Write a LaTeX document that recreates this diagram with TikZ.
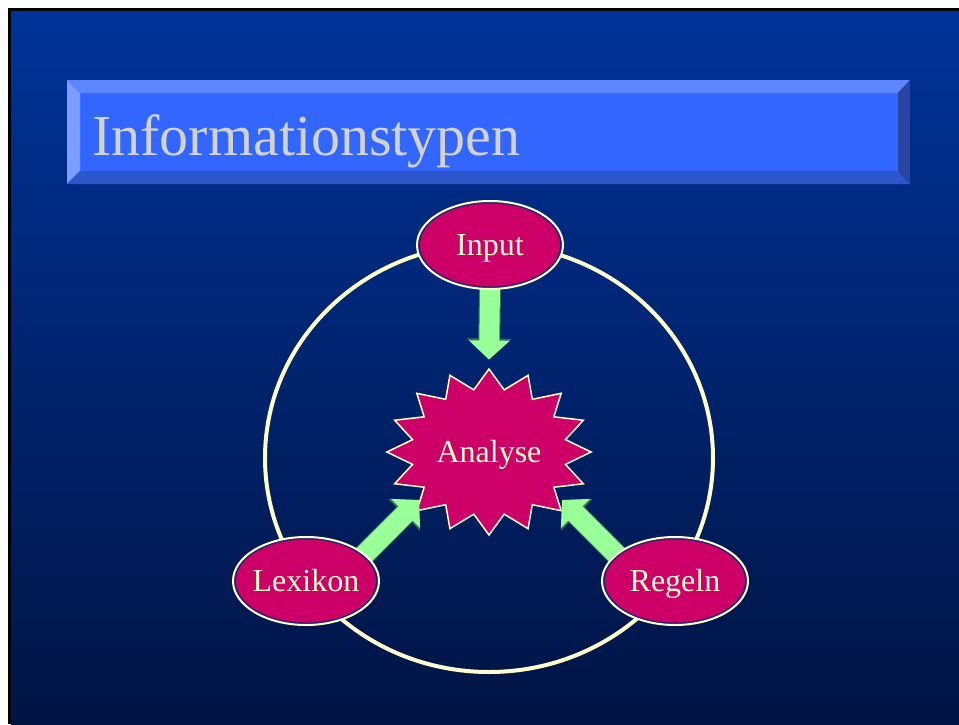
\documentclass[tikz,border=0pt]{standalone}
\usepackage{fontspec}
\setmainfont{Liberation Serif}
\usetikzlibrary{shapes.geometric,arrows.meta,calc}
\definecolor{bgtop}{HTML}{003399}
\definecolor{bgbot}{HTML}{001444}
\definecolor{face}{HTML}{3366FF}
\definecolor{bevtop}{HTML}{5C85FF}
\definecolor{bevleft}{HTML}{7C9DFF}
\definecolor{bevbot}{HTML}{2D55CC}
\definecolor{bevright}{HTML}{2A44A3}
\definecolor{titlegray}{HTML}{D2D2D2}
\definecolor{cream}{HTML}{FFFFCC}
\definecolor{mag}{HTML}{CC0066}
\definecolor{ringnavy}{HTML}{1F2470}
\definecolor{arrgreen}{HTML}{99FF99}
\definecolor{arredge}{HTML}{3E6E55}
\tikzset{
  lbl/.style={text=cream, font=\fontsize{32}{36}\selectfont, text height=21.5pt, text depth=0pt, inner sep=0pt},
  ell/.style={ellipse, draw=cream, line width=2pt, fill=ringnavy, minimum width=146pt, minimum height=88pt,
    inner sep=0pt, lbl,
    execute at begin node={\hbox to 0pt\bgroup\hss},
    execute at end node={\hss\egroup},
    path picture={\fill[mag] (path picture bounding box.center) ellipse [x radius=70pt, y radius=41.5pt];}},
  ring/.style={draw=cream, line width=4pt},
  arrbody/.style={line width=20pt, draw=arrgreen, -{Triangle[width=40pt,length=19pt]}},
  arrshadow/.style={line width=22pt, draw=arredge, -{Triangle[width=43.5pt,length=21pt]}},
}
\begin{document}
\begin{tikzpicture}[x=1pt,y=-1pt]
\useasboundingbox (0,0) rectangle (959,724);
\fill[white] (0,0) rectangle (959,724);
\fill[black] (8,8) rectangle (959,724);
\shade[top color=bgtop, bottom color=bgbot] (11,11) rectangle (959,724);
% title bar
\fill[face] (80,93) rectangle (898,171);
\fill[bevtop] (67,80) -- (910,80) -- (898,93) -- (80,93) -- cycle;
\fill[bevleft] (67,80) -- (80,93) -- (80,171) -- (67,184) -- cycle;
\fill[bevbot] (67,184) -- (80,171) -- (898,171) -- (910,184) -- cycle;
\fill[bevright] (910,80) -- (898,93) -- (898,171) -- (910,184) -- cycle;
\node[anchor=base west, text=titlegray, font=\fontsize{58}{60}\selectfont, inner sep=0pt] (title) at (92,155) {Informationstypen};
% ring
\draw[ring] (489,458) ellipse [x radius=224pt, y radius=214pt];
% star
\begin{scope}[shift={(489,452)}, xscale=1.23]
\node[star, star points=16, star point ratio=1.31, minimum size=166pt, inner sep=0pt,
  draw=cream, line width=1.5pt, fill=mag, transform shape] (analyse) at (0,0) {};
\end{scope}
\node[lbl] (analysetext) at (489,452) {Analyse};
% coordinates for nodes
\coordinate (cin) at (490,245);
\coordinate (clex) at (306,581);
\coordinate (creg) at (675,581);
% arrows
\draw[arrshadow] ($(cin)+(0,44)$) -- ($(analyse.north)+(0,-8)$);
\draw[arrbody] ($(cin)+(0,44)$) -- ($(analyse.north)+(0,-8)$);
\draw[arrshadow] ($(clex)+(45,-13)$) -- ($(clex)+(113,-81)$);
\draw[arrbody] ($(clex)+(45,-13)$) -- ($(clex)+(113,-81)$);
\draw[arrshadow] ($(creg)+(-45,-13)$) -- ($(creg)+(-113,-81)$);
\draw[arrbody] ($(creg)+(-45,-13)$) -- ($(creg)+(-113,-81)$);
% ellipses
\node[ell] (input) at (cin) {Input};
\node[ell] (lexikon) at (clex) {Lexikon};
\node[ell] (regeln) at (creg) {Regeln};
\end{tikzpicture}
\end{document}
